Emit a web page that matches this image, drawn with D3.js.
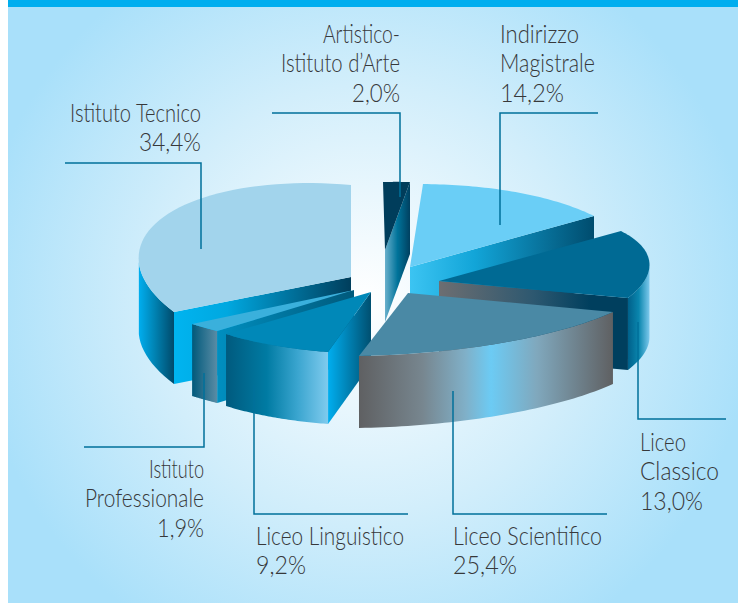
<!DOCTYPE html>
<html><head><meta charset="utf-8">
<style>html,body{margin:0;padding:0;background:#fff}svg{display:block}text{font-family:Lato,"Open Sans",sans-serif;font-weight:300;fill:#37383a}</style>
<script src="https://cdnjs.cloudflare.com/ajax/libs/d3/7.8.5/d3.min.js"></script>
</head><body><svg id="c" width="738" height="603"></svg>
<script>
// ---- data (clockwise from 12 o'clock) ----
const categories = ["Artistico-Istituto d'Arte","Indirizzo Magistrale","Liceo Classico","Liceo Scientifico","Liceo Linguistico","Istituto Professionale","Istituto Tecnico"];
const values = [2.0,14.2,13.0,25.4,9.2,1.9,34.4];
const labelNames = [["Artistico-","Istituto d’Arte"],["Indirizzo","Magistrale"],["Liceo","Classico"],["Liceo Scientifico"],["Liceo Linguistico"],["Istituto","Professionale"],["Istituto Tecnico"]];

// ---- layout: exploded slice offsets, per-slice tilt of the drawn disc ----
const centre = [385,285], depth = 72;
const explode = [[0,-35],[25,-18],[54,-4],[23,8],[-14,7],[-31,5],[-34,-8]];
const tilt = [[215.5,-2,-4.3,-68],[225.9,-15.4,-8.9,-82.5],[201.2,20.7,-5.5,-86.1],[209.4,-10.4,1.9,-66.2],[203.6,-15,-2.4,-61.8],[246,-77,5.5,-69.6],[212.8,0,19.3,-92]];
const bulge = [1,1,1.5,.5,1,1,.995];
const drawOrder = [0,1,2,6,5,4,3];

// ---- styles ----
const topFill = ["#003d5b","#6acef6","#006a94","#4a89a5","#0088b8","#3ab0dc","#a2d4ec"];
const arcStops = [null,null,[[0,"#00608a"],[.5,"#0a86ae"],[1,"#7cc8ec"]],
  [[0,"#5f6062"],[.25,"#77868f"],[.42,"#80b0c8"],[.52,"#6ccbf4"],[.7,"#80a8bd"],[1,"#5f6062"]],
  [[0,"#005a7e"],[.4,"#007ba3"],[.7,"#3aa5cf"],[1,"#7fcbee"]],
  [[0,"#00597b"],[1,"#5a8ca5"]],[[0,"#00aeef"],[.45,"#0083b3"],[1,"#004a6b"]]];
const edgeStops = [[[0,"#6ab0cc"],[.5,"#00739a"],[1,"#004060"]],[[0,"#3cc4f2"],[.35,"#12a5d8"],[1,"#004c6e"]],
  [[0,"#6d6e71"],[.5,"#2d5870"],[.8,"#003f5e"],[1,"#003f5e"]],null,[[0,"#00aeef"],[1,"#004f70"]],
  [[0,"#008fc0"],[1,"#00597b"]],[[0,"#00b4f0"],[.3,"#00a8e0"],[1,"#003e5c"]]];
// leader lines: [[x,y]...] and labels: anchor, x, first baseline
const leaders = [[[272,113],[400,113],[400,197]],[[598,113],[500,113],[500,225]],[[638,322],[638,419],[726,419]],[[453,391],[453,514],[607,514]],[[254,385],[254,514],[408,514]],[[204,373],[204,447],[84,447]],[[65,163],[201,163],[201,249]]];
const labelPos = [["end",400,43],["start",500,43],["start",640,451],["start",453,545],["start",256,545],["end",204,478],["end",201,122]];
const labelWidths = [[77,119,48],[79,95,64],[46,79,63],[149,64],[148,50],[55,119,47],[131,62]];
const fontSize = 25, lineGap = 29.3;

const svg = d3.select("#c"), defs = svg.append("defs");
// background
const bg = defs.append("radialGradient").attr("id","bg").attr("gradientUnits","userSpaceOnUse").attr("cx",365).attr("cy",300).attr("r",390);
[[0,"#ffffff"],[.55,"#d2eefb"],[1,"#a9e0fa"]].forEach(s=>bg.append("stop").attr("offset",s[0]).attr("stop-color",s[1]));
svg.append("rect").attr("x",8).attr("y",0).attr("width",730).attr("height",603).attr("fill","url(#bg)");
svg.append("rect").attr("x",8).attr("y",0).attr("width",730).attr("height",7).attr("fill","#00aeef");

function grad(id,stops){
  const g = defs.append("linearGradient").attr("id",id).attr("x1",0).attr("x2",1).attr("y1",0).attr("y2",0);
  stops.forEach(s=>g.append("stop").attr("offset",s[0]).attr("stop-color",s[1]));
  return `url(#${id})`;
}
const arcs = d3.pie().value(d=>d).sort(null)(values);
const line = d3.line();
const fmt = v => d3.format(".1f")(v).replace(".",",")+"%";
const N = 48;

function shape(i){
  const a = arcs[i], [sx,cx,sy,cy] = tilt[i], ox = centre[0]+explode[i][0], oy = centre[1]+explode[i][1];
  const P = th => [sx*Math.sin(th)+cx*Math.cos(th), sy*Math.sin(th)+cy*Math.cos(th)];
  const v0 = P(a.startAngle), v1 = P(a.endAngle);
  const t = d3.scaleLinear().domain([0,N]).range([a.startAngle,a.endAngle]);
  const rim = d3.range(N+1).map(k=>{
    const th=t(k), e=P(th), u=k/N, c=[v0[0]+(v1[0]-v0[0])*u, v0[1]+(v1[1]-v0[1])*u];
    return [ox+c[0]+bulge[i]*(e[0]-c[0]), oy+c[1]+bulge[i]*(e[1]-c[1])];
  });
  return {a,ox,oy,v0,v1,rim};
}
const down = p => [p[0],p[1]+depth];
function wall(pts){ return line(pts.concat(pts.slice().reverse().map(down)))+"Z"; }

drawOrder.forEach(i=>{
  const s = shape(i), g = svg.append("g").attr("class","slice").datum({category:categories[i],value:values[i]});
  const apex=[s.ox,s.oy], first=s.rim[0], last=s.rim[N];
  // radial walls that face the viewer: the cut before the slice on the left side, after it on the right
  if(edgeStops[i]){
    const pts = i>3 ? [first,apex] : [apex,last];
    g.append("path").attr("d",wall(pts)).attr("fill",grad("e"+i,edgeStops[i]));
  }
  // outer rim: only where the rim runs right-to-left on screen
  if(arcStops[i]){
    const front = s.rim.filter((p,k)=>k<N ? s.rim[k+1][0]<p[0] : s.rim[k-1][0]>p[0]);
    if(front.length>1) g.append("path").attr("d",wall(front)).attr("fill",grad("a"+i,arcStops[i]));
  }
  g.append("path").attr("d",line([apex].concat(s.rim))+"Z").attr("fill",topFill[i]);
});

leaders.forEach(l=>svg.append("path").attr("d",line(l)).attr("fill","none").attr("stroke","#00709b").attr("stroke-width",1.5));

categories.forEach((c,i)=>{
  const [anc,x,y] = labelPos[i], lines = labelNames[i].concat([fmt(values[i])]);
  lines.forEach((ln,k)=>svg.append("text").attr("x",x).attr("y",y+k*lineGap).attr("text-anchor",anc)
    .attr("font-size",fontSize).attr("textLength",labelWidths[i][k]).attr("lengthAdjust","spacingAndGlyphs").text(ln));
});
</script></body></html>
